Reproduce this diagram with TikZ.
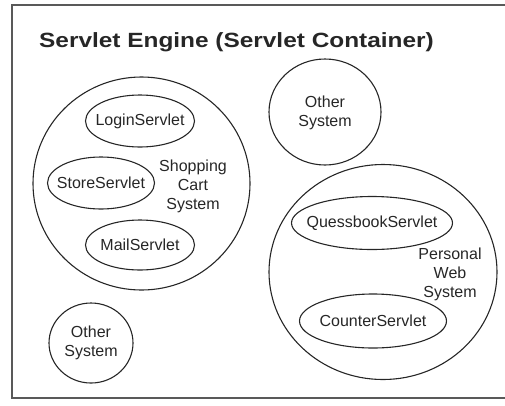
\documentclass[tikz,border=0pt]{standalone}
\usepackage{fontspec}
\setmainfont{Liberation Sans}
\usetikzlibrary{shapes.geometric}
\tikzset{
  txt/.style={font=\fontsize{16}{19}\selectfont, text=black!85, align=center, inner sep=0pt},
  sys/.style={draw=black!85, line width=1.1pt, ellipse, inner sep=0pt},
}
\begin{document}
\begin{tikzpicture}[x=1pt,y=-1pt]
  \useasboundingbox (0,0) rectangle (505,405);
  % container frame (right side runs past the page)
  \draw[black!65, line width=1.8pt] (12,5) rectangle (530,398);
  \node[anchor=base west, inner sep=0pt, text=black!85] (title) at (39,47)
    {\scalebox{1.22}[1.03]{\fontsize{20}{24}\selectfont\bfseries Servlet Engine (Servlet Container)}};

  % shopping cart system
  \node[sys, minimum width=217pt, minimum height=213pt] (cart) at (141.5,183.5) {};
  \node[sys, minimum width=109pt, minimum height=52pt] (login) at (140,121) {};
  \node[txt] (loginlbl) at (login) {LoginServlet};
  \node[sys, minimum width=107pt, minimum height=52pt] (store) at (101,183) {};
  \node[txt] (storelbl) at (store) {StoreServlet};
  \node[sys, minimum width=109pt, minimum height=50pt] (mail) at (140,245) {};
  \node[txt] (maillbl) at (mail) {MailServlet};
  \node[txt] (cartlbl) at (193,186) {Shopping\\Cart\\System};

  % other system, top
  \node[sys, minimum width=112pt, minimum height=106pt] (other1) at (325,112) {};
  \node[txt] (other1lbl) at (325,113) {Other\\System};

  % personal web system
  \node[sys, minimum width=228pt, minimum height=215pt] (web) at (383,272) {};
  \node[sys, minimum width=161pt, minimum height=53pt] (guest) at (372,223) {};
  \node[txt] (guestlbl) at (guest) {QuessbookServlet};
  \node[sys, minimum width=147pt, minimum height=54pt] (counter) at (373,321) {};
  \node[txt] (counterlbl) at (counter) {CounterServlet};
  \node[txt] (weblbl) at (450,274) {Personal\\Web\\System};

  % other system, bottom left
  \node[sys, minimum width=84pt, minimum height=80pt] (other2) at (91,343) {};
  \node[txt] (other2lbl) at (91,343) {Other\\System};
\end{tikzpicture}
\end{document}
